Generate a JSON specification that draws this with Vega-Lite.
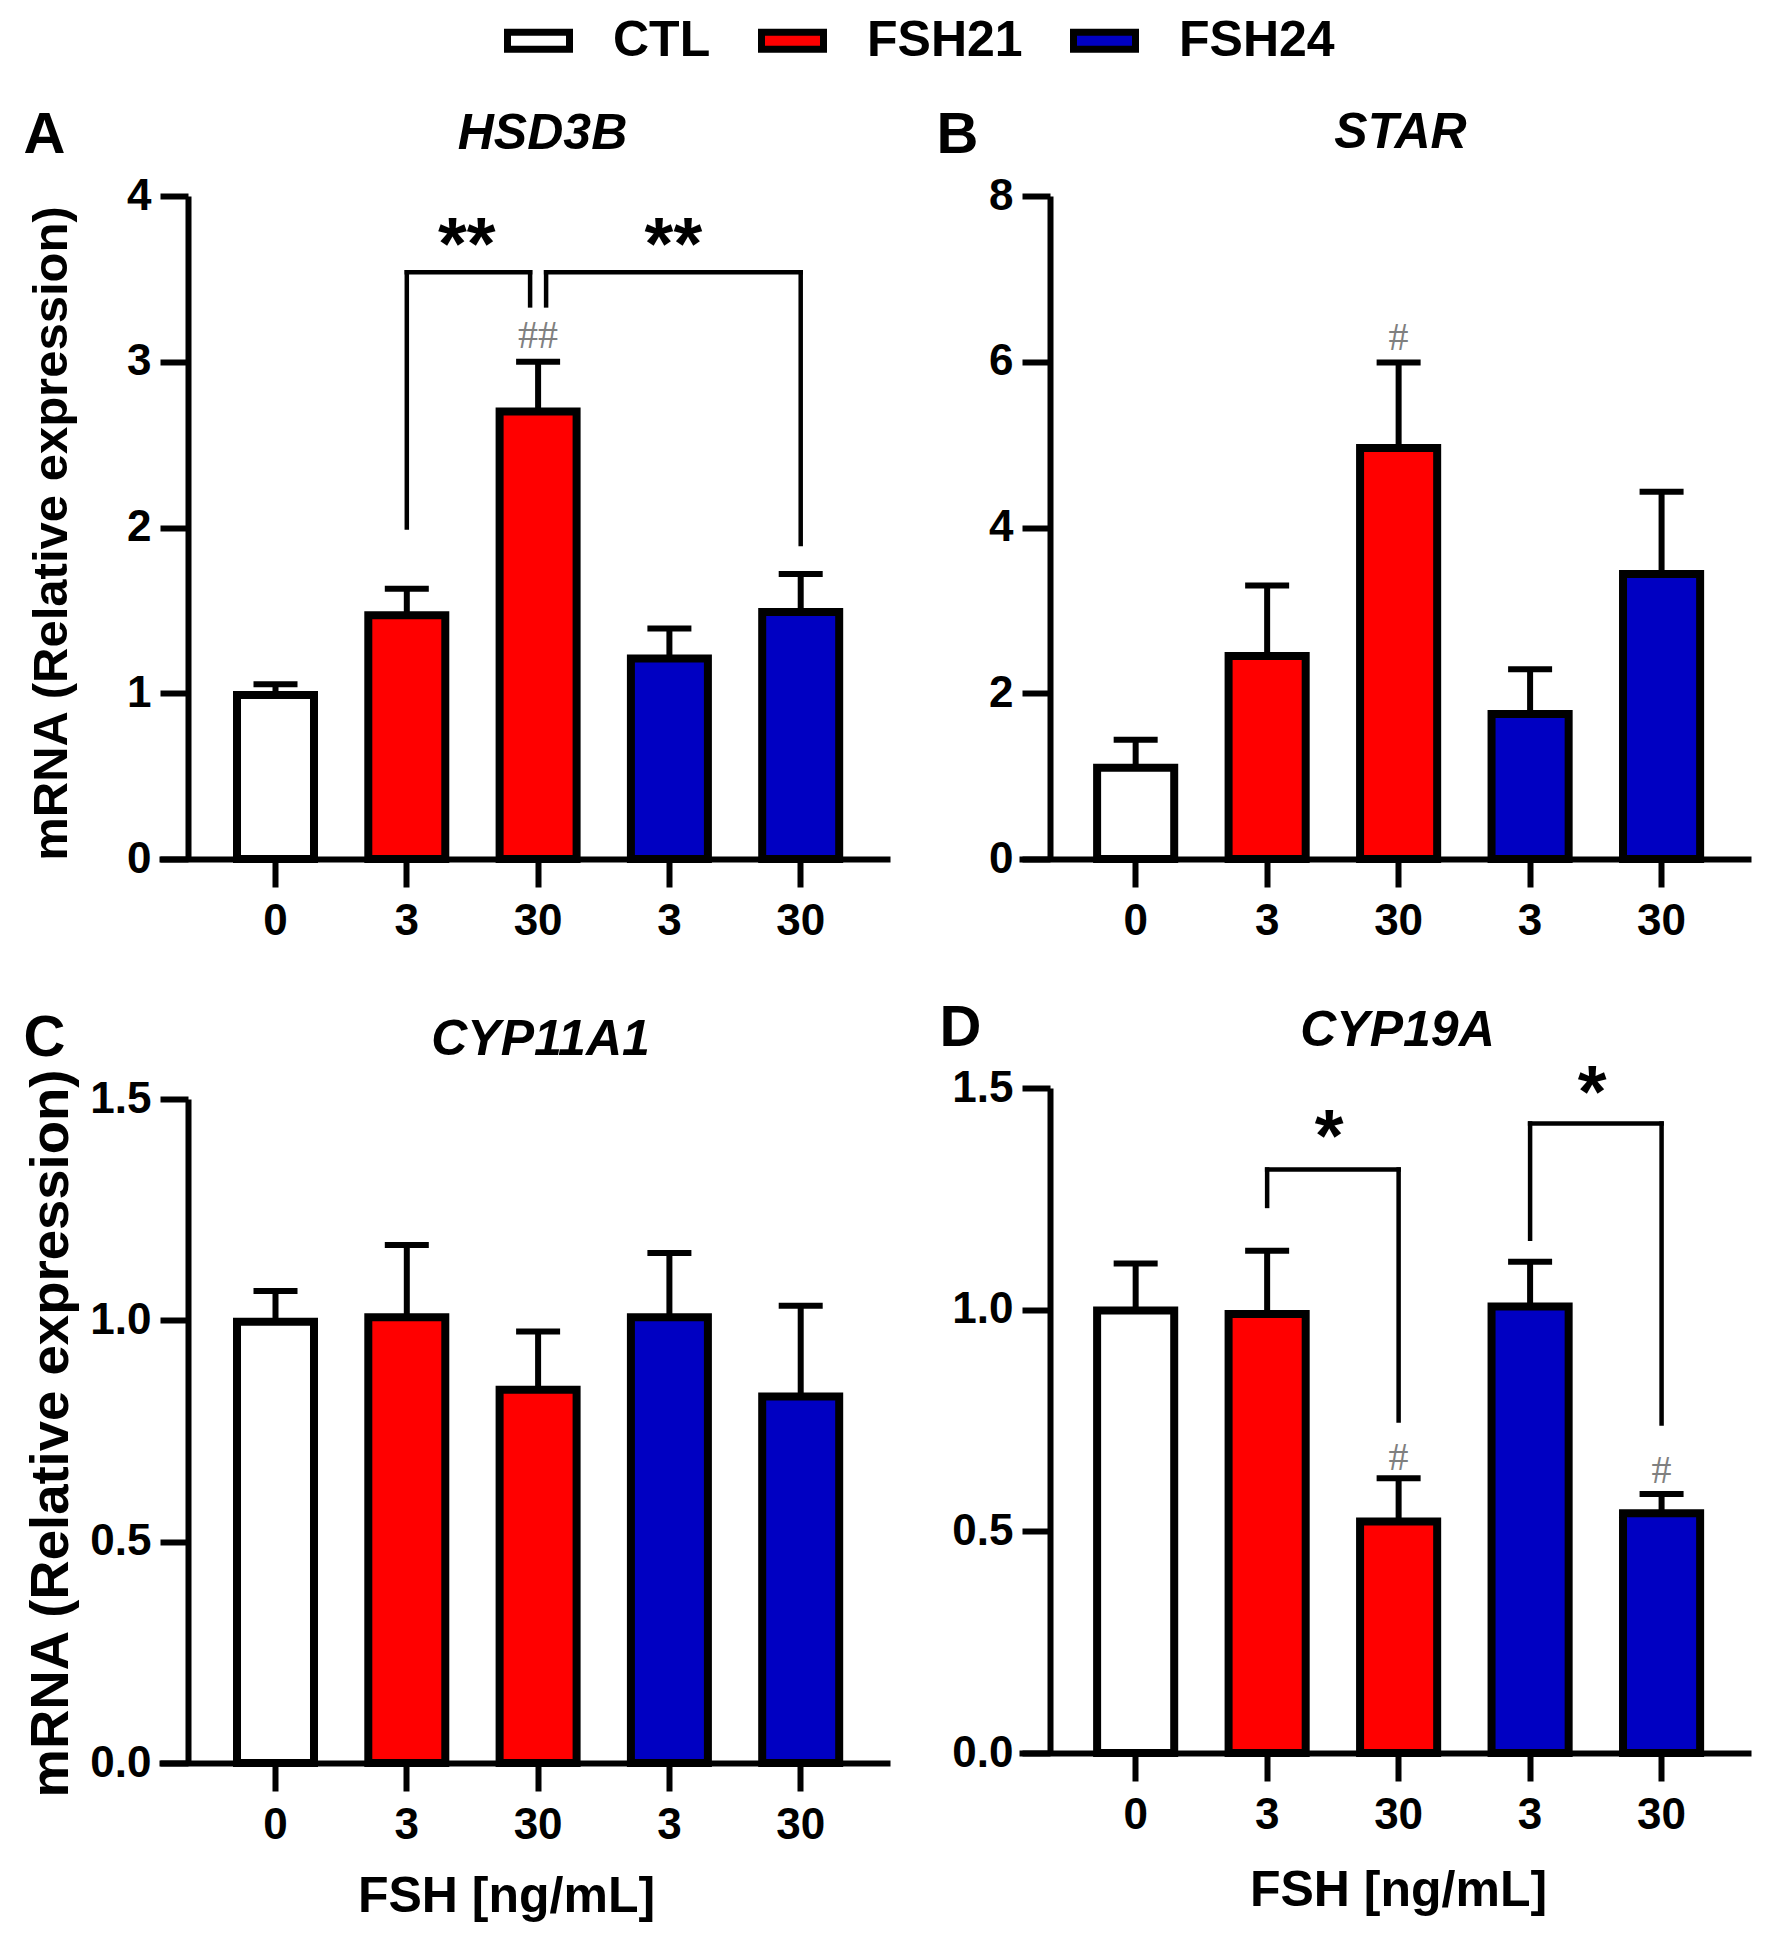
{
  "$schema": "https://vega.github.io/schema/vega-lite/v6.json",
  "background": "white",
  "padding": {"left": 22, "top": 6, "right": 5, "bottom": 5},
  "datasets": {
    "bars": [
      {"panel": "A", "grp": "CTL", "cat": "CTL 0", "mean": 0.99, "upper": 1.055},
      {"panel": "A", "grp": "FSH21", "cat": "FSH21 3", "mean": 1.47, "upper": 1.63},
      {"panel": "A", "grp": "FSH21", "cat": "FSH21 30", "mean": 2.7, "upper": 3.0},
      {"panel": "A", "grp": "FSH24", "cat": "FSH24 3", "mean": 1.21, "upper": 1.39},
      {"panel": "A", "grp": "FSH24", "cat": "FSH24 30", "mean": 1.49, "upper": 1.72},
      {"panel": "B", "grp": "CTL", "cat": "CTL 0", "mean": 1.1, "upper": 1.44},
      {"panel": "B", "grp": "FSH21", "cat": "FSH21 3", "mean": 2.45, "upper": 3.3},
      {"panel": "B", "grp": "FSH21", "cat": "FSH21 30", "mean": 4.96, "upper": 5.99},
      {"panel": "B", "grp": "FSH24", "cat": "FSH24 3", "mean": 1.75, "upper": 2.29},
      {"panel": "B", "grp": "FSH24", "cat": "FSH24 30", "mean": 3.44, "upper": 4.43},
      {"panel": "C", "grp": "CTL", "cat": "CTL 0", "mean": 0.997, "upper": 1.066},
      {"panel": "C", "grp": "FSH21", "cat": "FSH21 3", "mean": 1.007, "upper": 1.17},
      {"panel": "C", "grp": "FSH21", "cat": "FSH21 30", "mean": 0.843, "upper": 0.975},
      {"panel": "C", "grp": "FSH24", "cat": "FSH24 3", "mean": 1.007, "upper": 1.152},
      {"panel": "C", "grp": "FSH24", "cat": "FSH24 30", "mean": 0.828, "upper": 1.033},
      {"panel": "D", "grp": "CTL", "cat": "CTL 0", "mean": 0.998, "upper": 1.104},
      {"panel": "D", "grp": "FSH21", "cat": "FSH21 3", "mean": 0.99, "upper": 1.133},
      {"panel": "D", "grp": "FSH21", "cat": "FSH21 30", "mean": 0.522, "upper": 0.62},
      {"panel": "D", "grp": "FSH24", "cat": "FSH24 3", "mean": 1.007, "upper": 1.108},
      {"panel": "D", "grp": "FSH24", "cat": "FSH24 30", "mean": 0.541, "upper": 0.584}
    ],
    "legs": [
      {"panel": "A", "cat": "FSH21 3", "lo": 2.0, "hi": 3.54, "side": "c"},
      {"panel": "A", "cat": "FSH21 30", "lo": 3.34, "hi": 3.54, "side": "l"},
      {"panel": "A", "cat": "FSH21 30", "lo": 3.34, "hi": 3.54, "side": "r"},
      {"panel": "A", "cat": "FSH24 30", "lo": 1.9, "hi": 3.54, "side": "c"},
      {"panel": "D", "cat": "FSH21 3", "lo": 1.234, "hi": 1.316, "side": "c"},
      {"panel": "D", "cat": "FSH21 30", "lo": 0.75, "hi": 1.316, "side": "c"},
      {"panel": "D", "cat": "FSH24 3", "lo": 1.16, "hi": 1.42, "side": "c"},
      {"panel": "D", "cat": "FSH24 30", "lo": 0.743, "hi": 1.42, "side": "c"}
    ],
    "spans": [
      {"panel": "A", "from": "FSH21 3", "to": "FSH21 30", "y": 3.54, "side": "l"},
      {"panel": "A", "from": "FSH21 30", "to": "FSH24 30", "y": 3.54, "side": "r"},
      {"panel": "D", "from": "FSH21 3", "to": "FSH21 30", "y": 1.316, "side": "c"},
      {"panel": "D", "from": "FSH24 3", "to": "FSH24 30", "y": 1.42, "side": "c"}
    ],
    "notes": [
      {"panel": "A", "cat": "FSH21 3", "y": 3.81, "txt": "**", "kind": "star", "at": "mid"},
      {"panel": "A", "cat": "FSH24 3", "y": 3.81, "txt": "**", "kind": "star", "at": "on"},
      {"panel": "A", "cat": "FSH21 30", "y": 3.17, "txt": "##", "kind": "hash", "at": "on"},
      {"panel": "B", "cat": "FSH21 30", "y": 6.31, "txt": "#", "kind": "hash", "at": "on"},
      {"panel": "D", "cat": "FSH21 3", "y": 1.43, "txt": "*", "kind": "star", "at": "mid"},
      {"panel": "D", "cat": "FSH24 3", "y": 1.53, "txt": "*", "kind": "star", "at": "mid"},
      {"panel": "D", "cat": "FSH21 30", "y": 0.67, "txt": "#", "kind": "hash", "at": "on"},
      {"panel": "D", "cat": "FSH24 30", "y": 0.64, "txt": "#", "kind": "hash", "at": "on"}
    ]
  },
  "columns": 2,
  "spacing": {"row": 229, "column": 129},
  "bounds": "flush",
  "concat": [
    {
      "width": 731,
      "height": 663,
      "resolve": {"axis": {"x": "independent", "y": "independent"}},
      "layer": [
        {
          "data": {"name": "bars"},
          "transform": [{"filter": "datum.panel === 'A'"}],
          "mark": {"type": "rule", "strokeWidth": 6, "color": "black"},
          "encoding": {
            "x": {"field": "cat", "type": "nominal", "scale": {"domain": ["CTL 0", "FSH21 3", "FSH21 30", "FSH24 3", "FSH24 30"], "paddingInner": 0.4136, "paddingOuter": 0.4905, "align": 0.6056}, "axis": {"orient": "bottom", "title": null, "labelExpr": "split(datum.label, ' ')[1]", "labelAngle": 0, "labelPadding": 12}},
            "y": {"field": "mean", "type": "quantitative", "scale": {"domain": [0, 4], "nice": false}, "axis": {"orient": "left", "offset": -29, "values": [0, 1, 2, 3, 4], "labelPadding": 9, "title": "mRNA (Relative expression)", "titleX": -137, "titleY": 337, "titleAngle": -90, "titleAlign": "center", "titleBaseline": "middle", "titleFontSize": 49}},
            "y2": {"field": "upper"}
          }
        },
        {
          "data": {"name": "bars"},
          "transform": [{"filter": "datum.panel === 'A'"}],
          "mark": {"type": "tick", "thickness": 6, "size": 44, "color": "black", "opacity": 1},
          "encoding": {
            "x": {"field": "cat", "type": "nominal", "axis": {"orient": "top", "domain": false, "ticks": false, "labels": false, "title": "HSD3B", "titleX": 383, "titleY": -48, "titleAngle": 0, "titleAlign": "center", "titleBaseline": "alphabetic", "titleFontSize": 50, "titleFontStyle": "italic"}},
            "y": {"field": "upper", "type": "quantitative", "scale": {"domain": [0, 4], "nice": false}, "axis": {"orient": "right", "domain": false, "ticks": false, "labels": false, "title": "A", "titleX": -867, "titleY": -44, "titleAngle": 0, "titleAlign": "left", "titleBaseline": "alphabetic", "titleFontSize": 58}}
          }
        },
        {
          "data": {"name": "bars"},
          "transform": [{"filter": "datum.panel === 'A'"}],
          "mark": {"type": "bar", "stroke": "black", "strokeWidth": 8},
          "encoding": {
            "x": {"field": "cat", "type": "nominal", "axis": null},
            "y": {"field": "mean", "type": "quantitative", "scale": {"domain": [0, 4], "nice": false}, "axis": null},
            "fill": {"field": "grp", "type": "nominal", "scale": {"domain": ["CTL", "FSH21", "FSH24"], "range": ["#ffffff", "#ff0000", "#0000c2"]}, "legend": {"orient": "none", "direction": "horizontal", "legendX": 345, "legendY": -190, "title": null, "symbolType": "M-1,-0.274H1V0.274H-1Z", "symbolSize": 3844, "symbolStrokeColor": "black", "symbolStrokeWidth": 7, "symbolOpacity": 1, "labelFont": "Liberation Sans", "labelFontSize": 50, "labelFontWeight": "bold", "labelColor": "black", "labelOffset": 40, "columnPadding": 36, "padding": 0}}
          }
        },
        {
          "data": {"name": "legs"},
          "transform": [{"filter": "datum.panel === 'A' && datum.side === 'c'"}],
          "mark": {"type": "rule", "strokeWidth": 4.5, "color": "black", "strokeCap": "square"},
          "encoding": {"x": {"field": "cat", "type": "nominal", "axis": null}, "y": {"field": "lo", "type": "quantitative", "scale": {"domain": [0, 4], "nice": false}, "axis": null}, "y2": {"field": "hi"}}
        },
        {
          "data": {"name": "legs"},
          "transform": [{"filter": "datum.panel === 'A' && datum.side === 'l'"}],
          "mark": {"type": "rule", "strokeWidth": 4.5, "color": "black", "strokeCap": "square", "xOffset": -8},
          "encoding": {"x": {"field": "cat", "type": "nominal", "axis": null}, "y": {"field": "lo", "type": "quantitative", "scale": {"domain": [0, 4], "nice": false}, "axis": null}, "y2": {"field": "hi"}}
        },
        {
          "data": {"name": "legs"},
          "transform": [{"filter": "datum.panel === 'A' && datum.side === 'r'"}],
          "mark": {"type": "rule", "strokeWidth": 4.5, "color": "black", "strokeCap": "square", "xOffset": 8},
          "encoding": {"x": {"field": "cat", "type": "nominal", "axis": null}, "y": {"field": "lo", "type": "quantitative", "scale": {"domain": [0, 4], "nice": false}, "axis": null}, "y2": {"field": "hi"}}
        },
        {
          "data": {"name": "spans"},
          "transform": [{"filter": "datum.panel === 'A' && datum.side === 'l'"}],
          "mark": {"type": "rule", "strokeWidth": 4.5, "color": "black", "strokeCap": "square", "x2Offset": -8},
          "encoding": {"x": {"field": "from", "type": "nominal", "axis": null}, "x2": {"field": "to"}, "y": {"field": "y", "type": "quantitative", "scale": {"domain": [0, 4], "nice": false}, "axis": null}}
        },
        {
          "data": {"name": "spans"},
          "transform": [{"filter": "datum.panel === 'A' && datum.side === 'r'"}],
          "mark": {"type": "rule", "strokeWidth": 4.5, "color": "black", "strokeCap": "square", "xOffset": 8},
          "encoding": {"x": {"field": "from", "type": "nominal", "axis": null}, "x2": {"field": "to"}, "y": {"field": "y", "type": "quantitative", "scale": {"domain": [0, 4], "nice": false}, "axis": null}}
        },
        {
          "data": {"name": "notes"},
          "transform": [{"filter": "datum.panel === 'A' && datum.kind === 'star' && datum.at === 'mid'"}],
          "mark": {"type": "text", "font": "Liberation Sans", "fontWeight": "bold", "fontSize": 74, "baseline": "alphabetic", "align": "center", "dy": 42, "dx": 60, "color": "black"},
          "encoding": {"x": {"field": "cat", "type": "nominal", "axis": null}, "y": {"field": "y", "type": "quantitative", "scale": {"domain": [0, 4], "nice": false}, "axis": null}, "text": {"field": "txt"}}
        },
        {
          "data": {"name": "notes"},
          "transform": [{"filter": "datum.panel === 'A' && datum.kind === 'star' && datum.at === 'on'"}],
          "mark": {"type": "text", "font": "Liberation Sans", "fontWeight": "bold", "fontSize": 74, "baseline": "alphabetic", "align": "center", "dy": 42, "dx": 4, "color": "black"},
          "encoding": {"x": {"field": "cat", "type": "nominal", "axis": null}, "y": {"field": "y", "type": "quantitative", "scale": {"domain": [0, 4], "nice": false}, "axis": null}, "text": {"field": "txt"}}
        },
        {
          "data": {"name": "notes"},
          "transform": [{"filter": "datum.panel === 'A' && datum.kind === 'hash'"}],
          "mark": {"type": "text", "font": "Liberation Serif", "fontSize": 40, "baseline": "alphabetic", "align": "center", "dy": 14, "color": "#808080"},
          "encoding": {"x": {"field": "cat", "type": "nominal", "axis": null}, "y": {"field": "y", "type": "quantitative", "scale": {"domain": [0, 4], "nice": false}, "axis": null}, "text": {"field": "txt"}}
        }
      ]
    },
    {
      "width": 732,
      "height": 663,
      "resolve": {"axis": {"x": "independent", "y": "independent"}},
      "layer": [
        {
          "data": {"name": "bars"},
          "transform": [{"filter": "datum.panel === 'B'"}],
          "mark": {"type": "rule", "strokeWidth": 6, "color": "black"},
          "encoding": {
            "x": {"field": "cat", "type": "nominal", "scale": {"domain": ["CTL 0", "FSH21 3", "FSH21 30", "FSH24 3", "FSH24 30"], "paddingInner": 0.4136, "paddingOuter": 0.4905, "align": 0.6056}, "axis": {"orient": "bottom", "title": null, "labelExpr": "split(datum.label, ' ')[1]", "labelAngle": 0, "labelPadding": 12}},
            "y": {"field": "mean", "type": "quantitative", "scale": {"domain": [0, 8], "nice": false}, "axis": {"orient": "left", "offset": -31, "values": [0, 2, 4, 6, 8], "labelPadding": 9, "title": null}},
            "y2": {"field": "upper"}
          }
        },
        {
          "data": {"name": "bars"},
          "transform": [{"filter": "datum.panel === 'B'"}],
          "mark": {"type": "tick", "thickness": 6, "size": 44, "color": "black", "opacity": 1},
          "encoding": {
            "x": {"field": "cat", "type": "nominal", "axis": {"orient": "top", "domain": false, "ticks": false, "labels": false, "title": "STAR", "titleX": 381, "titleY": -49, "titleAngle": 0, "titleAlign": "center", "titleBaseline": "alphabetic", "titleFontSize": 50, "titleFontStyle": "italic"}},
            "y": {"field": "upper", "type": "quantitative", "scale": {"domain": [0, 8], "nice": false}, "axis": {"orient": "right", "domain": false, "ticks": false, "labels": false, "title": "B", "titleX": -815, "titleY": -44, "titleAngle": 0, "titleAlign": "left", "titleBaseline": "alphabetic", "titleFontSize": 58}}
          }
        },
        {
          "data": {"name": "bars"},
          "transform": [{"filter": "datum.panel === 'B'"}],
          "mark": {"type": "bar", "stroke": "black", "strokeWidth": 8},
          "encoding": {
            "x": {"field": "cat", "type": "nominal", "axis": null},
            "y": {"field": "mean", "type": "quantitative", "scale": {"domain": [0, 8], "nice": false}, "axis": null},
            "fill": {"field": "grp", "type": "nominal", "scale": {"domain": ["CTL", "FSH21", "FSH24"], "range": ["#ffffff", "#ff0000", "#0000c2"]}, "legend": {"orient": "none", "direction": "horizontal", "legendX": 345, "legendY": -190, "title": null, "symbolType": "M-1,-0.274H1V0.274H-1Z", "symbolSize": 3844, "symbolStrokeColor": "black", "symbolStrokeWidth": 7, "symbolOpacity": 1, "labelFont": "Liberation Sans", "labelFontSize": 50, "labelFontWeight": "bold", "labelColor": "black", "labelOffset": 40, "columnPadding": 36, "padding": 0}}
          }
        },
        {
          "data": {"name": "notes"},
          "transform": [{"filter": "datum.panel === 'B' && datum.kind === 'hash'"}],
          "mark": {"type": "text", "font": "Liberation Serif", "fontSize": 40, "baseline": "alphabetic", "align": "center", "dy": 14, "color": "#808080"},
          "encoding": {"x": {"field": "cat", "type": "nominal", "axis": null}, "y": {"field": "y", "type": "quantitative", "scale": {"domain": [0, 8], "nice": false}, "axis": null}, "text": {"field": "txt"}}
        }
      ]
    },
    {
      "width": 731,
      "height": 675,
      "resolve": {"axis": {"x": "independent", "y": "independent"}},
      "layer": [
        {
          "data": {"name": "bars"},
          "transform": [{"filter": "datum.panel === 'C'"}],
          "mark": {"type": "rule", "strokeWidth": 6, "color": "black"},
          "encoding": {
            "x": {"field": "cat", "type": "nominal", "scale": {"domain": ["CTL 0", "FSH21 3", "FSH21 30", "FSH24 3", "FSH24 30"], "paddingInner": 0.4136, "paddingOuter": 0.4905, "align": 0.6056}, "axis": {"orient": "bottom", "title": "FSH [ng/mL]", "titleX": 347, "titleY": 133, "titleAlign": "center", "titleBaseline": "middle", "titleFontSize": 50, "labelExpr": "split(datum.label, ' ')[1]", "labelAngle": 0, "labelPadding": 12}},
            "y": {"field": "mean", "type": "quantitative", "scale": {"domain": [0, 1.5], "nice": false, "range": [675, 11]}, "axis": {"orient": "left", "offset": -29, "values": [0, 0.5, 1, 1.5], "format": ".1f", "labelPadding": 9, "title": "mRNA (Relative expression)", "titleX": -137, "titleY": 345, "titleAngle": -90, "titleAlign": "center", "titleBaseline": "middle", "titleFontSize": 54.5}},
            "y2": {"field": "upper"}
          }
        },
        {
          "data": {"name": "bars"},
          "transform": [{"filter": "datum.panel === 'C'"}],
          "mark": {"type": "tick", "thickness": 6, "size": 44, "color": "black", "opacity": 1},
          "encoding": {
            "x": {"field": "cat", "type": "nominal", "axis": {"orient": "top", "domain": false, "ticks": false, "labels": false, "title": "CYP11A1", "titleX": 381, "titleY": -34, "titleAngle": 0, "titleAlign": "center", "titleBaseline": "alphabetic", "titleFontSize": 50, "titleFontStyle": "italic"}},
            "y": {"field": "upper", "type": "quantitative", "scale": {"domain": [0, 1.5], "nice": false, "range": [675, 11]}, "axis": {"orient": "right", "domain": false, "ticks": false, "labels": false, "title": "C", "titleX": -867, "titleY": -33, "titleAngle": 0, "titleAlign": "left", "titleBaseline": "alphabetic", "titleFontSize": 58}}
          }
        },
        {
          "data": {"name": "bars"},
          "transform": [{"filter": "datum.panel === 'C'"}],
          "mark": {"type": "bar", "stroke": "black", "strokeWidth": 8},
          "encoding": {
            "x": {"field": "cat", "type": "nominal", "axis": null},
            "y": {"field": "mean", "type": "quantitative", "scale": {"domain": [0, 1.5], "nice": false, "range": [675, 11]}, "axis": null},
            "fill": {"field": "grp", "type": "nominal", "scale": {"domain": ["CTL", "FSH21", "FSH24"], "range": ["#ffffff", "#ff0000", "#0000c2"]}, "legend": {"orient": "none", "direction": "horizontal", "legendX": 345, "legendY": -190, "title": null, "symbolType": "M-1,-0.274H1V0.274H-1Z", "symbolSize": 3844, "symbolStrokeColor": "black", "symbolStrokeWidth": 7, "symbolOpacity": 1, "labelFont": "Liberation Sans", "labelFontSize": 50, "labelFontWeight": "bold", "labelColor": "black", "labelOffset": 40, "columnPadding": 36, "padding": 0}}
          }
        }
      ]
    },
    {
      "width": 732,
      "height": 675,
      "resolve": {"axis": {"x": "independent", "y": "independent"}},
      "layer": [
        {
          "data": {"name": "bars"},
          "transform": [{"filter": "datum.panel === 'D'"}],
          "mark": {"type": "rule", "strokeWidth": 6, "color": "black"},
          "encoding": {
            "x": {"field": "cat", "type": "nominal", "scale": {"domain": ["CTL 0", "FSH21 3", "FSH21 30", "FSH24 3", "FSH24 30"], "paddingInner": 0.4136, "paddingOuter": 0.4905, "align": 0.6056}, "axis": {"orient": "bottom", "offset": -10, "title": "FSH [ng/mL]", "titleX": 379, "titleY": 137, "titleAlign": "center", "titleBaseline": "middle", "titleFontSize": 50, "labelExpr": "split(datum.label, ' ')[1]", "labelAngle": 0, "labelPadding": 12}},
            "y": {"field": "mean", "type": "quantitative", "scale": {"domain": [0, 1.5], "nice": false, "range": [665, 0]}, "axis": {"orient": "left", "offset": -31, "values": [0, 0.5, 1, 1.5], "format": ".1f", "labelPadding": 9, "title": null}},
            "y2": {"field": "upper"}
          }
        },
        {
          "data": {"name": "bars"},
          "transform": [{"filter": "datum.panel === 'D'"}],
          "mark": {"type": "tick", "thickness": 6, "size": 44, "color": "black", "opacity": 1},
          "encoding": {
            "x": {"field": "cat", "type": "nominal", "axis": {"orient": "top", "domain": false, "ticks": false, "labels": false, "title": "CYP19A", "titleX": 378, "titleY": -43, "titleAngle": 0, "titleAlign": "center", "titleBaseline": "alphabetic", "titleFontSize": 50, "titleFontStyle": "italic"}},
            "y": {"field": "upper", "type": "quantitative", "scale": {"domain": [0, 1.5], "nice": false, "range": [665, 0]}, "axis": {"orient": "right", "domain": false, "ticks": false, "labels": false, "title": "D", "titleX": -812, "titleY": -43, "titleAngle": 0, "titleAlign": "left", "titleBaseline": "alphabetic", "titleFontSize": 58}}
          }
        },
        {
          "data": {"name": "bars"},
          "transform": [{"filter": "datum.panel === 'D'"}],
          "mark": {"type": "bar", "stroke": "black", "strokeWidth": 8},
          "encoding": {
            "x": {"field": "cat", "type": "nominal", "axis": null},
            "y": {"field": "mean", "type": "quantitative", "scale": {"domain": [0, 1.5], "nice": false, "range": [665, 0]}, "axis": null},
            "fill": {"field": "grp", "type": "nominal", "scale": {"domain": ["CTL", "FSH21", "FSH24"], "range": ["#ffffff", "#ff0000", "#0000c2"]}, "legend": {"orient": "none", "direction": "horizontal", "legendX": 345, "legendY": -190, "title": null, "symbolType": "M-1,-0.274H1V0.274H-1Z", "symbolSize": 3844, "symbolStrokeColor": "black", "symbolStrokeWidth": 7, "symbolOpacity": 1, "labelFont": "Liberation Sans", "labelFontSize": 50, "labelFontWeight": "bold", "labelColor": "black", "labelOffset": 40, "columnPadding": 36, "padding": 0}}
          }
        },
        {
          "data": {"name": "legs"},
          "transform": [{"filter": "datum.panel === 'D'"}],
          "mark": {"type": "rule", "strokeWidth": 4.5, "color": "black", "strokeCap": "square"},
          "encoding": {"x": {"field": "cat", "type": "nominal", "axis": null}, "y": {"field": "lo", "type": "quantitative", "scale": {"domain": [0, 1.5], "nice": false, "range": [665, 0]}, "axis": null}, "y2": {"field": "hi"}}
        },
        {
          "data": {"name": "spans"},
          "transform": [{"filter": "datum.panel === 'D'"}],
          "mark": {"type": "rule", "strokeWidth": 4.5, "color": "black", "strokeCap": "square"},
          "encoding": {"x": {"field": "from", "type": "nominal", "axis": null}, "x2": {"field": "to"}, "y": {"field": "y", "type": "quantitative", "scale": {"domain": [0, 1.5], "nice": false, "range": [665, 0]}, "axis": null}}
        },
        {
          "data": {"name": "notes"},
          "transform": [{"filter": "datum.panel === 'D' && datum.kind === 'star'"}],
          "mark": {"type": "text", "font": "Liberation Sans", "fontWeight": "bold", "fontSize": 74, "baseline": "alphabetic", "align": "center", "dy": 42, "dx": 62, "color": "black"},
          "encoding": {"x": {"field": "cat", "type": "nominal", "axis": null}, "y": {"field": "y", "type": "quantitative", "scale": {"domain": [0, 1.5], "nice": false, "range": [665, 0]}, "axis": null}, "text": {"field": "txt"}}
        },
        {
          "data": {"name": "notes"},
          "transform": [{"filter": "datum.panel === 'D' && datum.kind === 'hash'"}],
          "mark": {"type": "text", "font": "Liberation Serif", "fontSize": 40, "baseline": "alphabetic", "align": "center", "dy": 14, "color": "#808080"},
          "encoding": {"x": {"field": "cat", "type": "nominal", "axis": null}, "y": {"field": "y", "type": "quantitative", "scale": {"domain": [0, 1.5], "nice": false, "range": [665, 0]}, "axis": null}, "text": {"field": "txt"}}
        }
      ]
    }
  ],
  "config": {
    "font": "Liberation Sans",
    "view": {"stroke": null},
    "axis": {
      "grid": false,
      "domainColor": "black",
      "domainWidth": 6,
      "tickColor": "black",
      "tickWidth": 6,
      "tickSize": 28,
      "labelFont": "Liberation Sans",
      "labelFontSize": 44,
      "labelFontWeight": "bold",
      "labelColor": "black",
      "titleFont": "Liberation Sans",
      "titleFontWeight": "bold",
      "titleColor": "black"
    }
  }
}
